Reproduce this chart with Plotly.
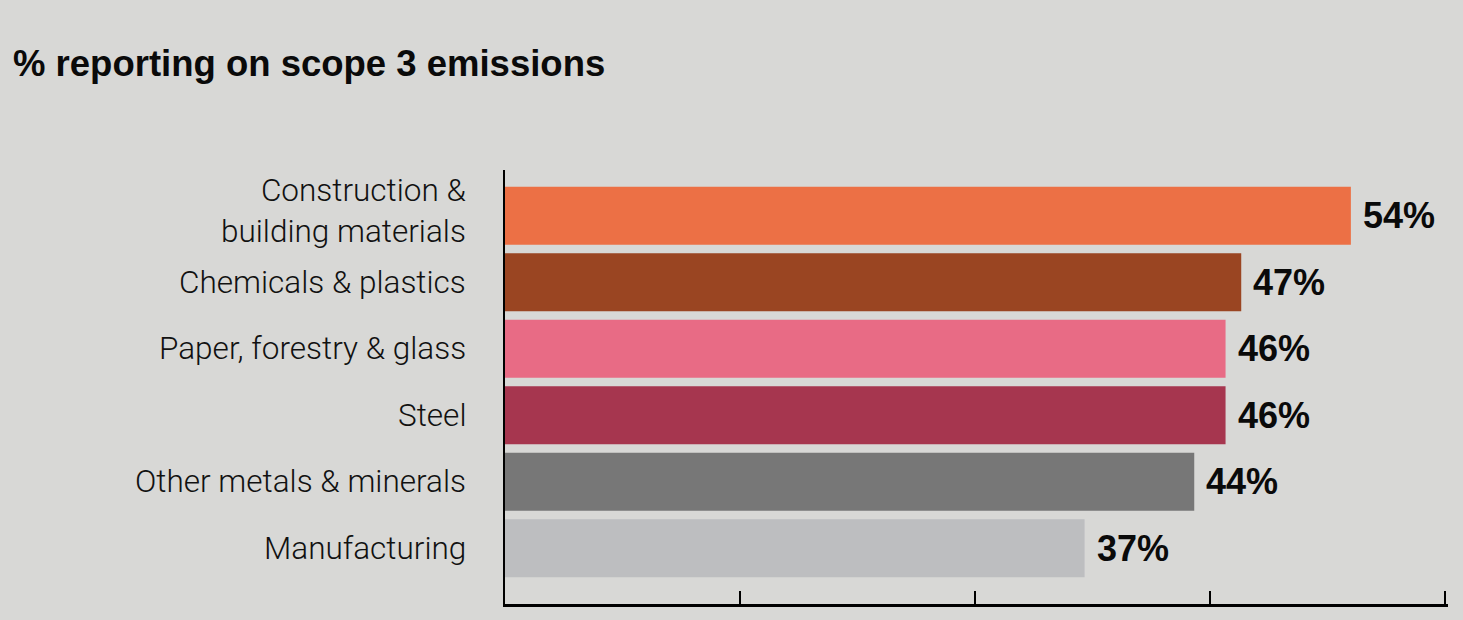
import plotly.graph_objects as go

# Share of companies reporting on scope 3 emissions, by sector
sectors = [
    "Construction &<br>building materials",
    "Chemicals & plastics",
    "Paper, forestry & glass",
    "Steel",
    "Other metals & minerals",
    "Manufacturing",
]
share_pct = [54, 47, 46, 46, 44, 37]
bar_colors = ["#ec7045", "#9a4522", "#e86b85", "#a6364f", "#777777", "#bdbec0"]
x_ticks = [0, 15, 30, 45, 60]

BG = "#d8d8d6"
LABEL_FONT = dict(family="Roboto", size=31.5, color="#111111", weight=300)
VALUE_FONT = dict(family="Liberation Sans", size=36, color="#0a0a0a", weight="bold")

fig = go.Figure(
    go.Bar(
        x=share_pct,
        y=sectors,
        orientation="h",
        marker=dict(color=bar_colors, line=dict(width=0)),
        width=0.873,
        hoverinfo="skip",
    )
)

annotations = []
for name, val in zip(sectors, share_pct):
    # sector name to the left of the axis (two-line names sit a little higher)
    annotations.append(dict(
        x=0, y=name, xref="paper", yref="y",
        text=name, showarrow=False, xanchor="right", yanchor="middle",
        align="right", xshift=-37, yshift=5 if "<br>" in name else 0,
        font=LABEL_FONT,
    ))
    # value at the end of the bar
    annotations.append(dict(
        x=val, y=name, xref="x", yref="y",
        text=f"{val}%", showarrow=False, xanchor="left", yanchor="middle",
        xshift=10, font=VALUE_FONT,
    ))

fig.update_layout(
    width=1463,
    height=620,
    paper_bgcolor=BG,
    plot_bgcolor=BG,
    margin=dict(l=505, r=15, t=170, b=16),
    showlegend=False,
    title=dict(
        text="% reporting on scope 3 emissions",
        x=13 / 1463, xanchor="left", xref="container",
        y=1 - 63 / 620, yanchor="middle", yref="container",
        font=dict(family="Liberation Sans", size=36.5, color="#0a0a0a", weight="bold"),
    ),
    annotations=annotations,
    xaxis=dict(
        range=[0, 60.2],
        tickvals=x_ticks,
        showticklabels=False,
        ticks="inside",
        ticklen=13,
        tickwidth=2,
        tickcolor="#000000",
        showline=True,
        linecolor="#000000",
        linewidth=2.5,
        showgrid=False,
        zeroline=False,
        fixedrange=True,
    ),
    yaxis=dict(
        type="category",
        categoryorder="array",
        categoryarray=sectors,
        range=[5.84, -0.69],
        showticklabels=False,
        ticks="",
        showline=True,
        linecolor="#000000",
        linewidth=2,
        showgrid=False,
        zeroline=False,
        fixedrange=True,
    ),
)

fig.write_html("out.html")
